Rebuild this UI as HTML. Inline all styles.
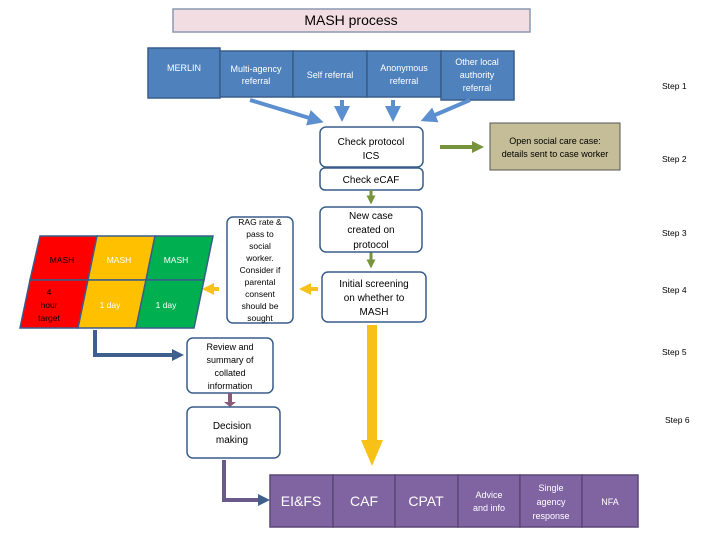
<!DOCTYPE html>
<html><head><style>
body{margin:0;background:#fff}
svg{display:block;font-family:"Liberation Sans",sans-serif}
</style></head><body>
<svg width="720" height="540" viewBox="0 0 720 540" xmlns="http://www.w3.org/2000/svg">
<defs>
<marker id="bh" markerWidth="4" markerHeight="4" refX="2" refY="2" orient="auto" markerUnits="strokeWidth"><path d="M0,0 L4,2 L0,4 Z" fill="#5b8fd0"/></marker>
<marker id="gh" markerWidth="3" markerHeight="3" refX="1.5" refY="1.5" orient="auto" markerUnits="strokeWidth"><path d="M0,0 L3,1.5 L0,3 Z" fill="#77933c"/></marker>
<marker id="yh" markerWidth="3" markerHeight="3" refX="1.5" refY="1.5" orient="auto" markerUnits="strokeWidth"><path d="M0,0 L3,1.5 L0,3 Z" fill="#f7c117"/></marker>
<marker id="dh" markerWidth="3" markerHeight="3" refX="1" refY="1.5" orient="auto" markerUnits="strokeWidth"><path d="M0,0 L3,1.5 L0,3 Z" fill="#3f5f8f"/></marker>
</defs>
<!-- title -->
<rect x="173" y="9" width="357" height="23" fill="#f2dde3" stroke="#8a9ab0" stroke-width="1.5"/>
<text x="351" y="25" font-size="14" text-anchor="middle">MASH process</text>
<!-- top blue boxes -->
<g fill="#4f81bd" stroke="#385d8a" stroke-width="1.5">
<rect x="148" y="48" width="72" height="50"/>
<rect x="220" y="51" width="73" height="46"/>
<rect x="293" y="51" width="74" height="46"/>
<rect x="367" y="51" width="74" height="46"/>
<rect x="441" y="51" width="73" height="49"/>
</g>
<g fill="#fff" font-size="9" text-anchor="middle">
<text x="184" y="71">MERLIN</text>
<text x="256" y="72">Multi-agency</text><text x="256" y="84">referral</text>
<text x="330" y="78">Self referral</text>
<text x="404" y="71">Anonymous</text><text x="404" y="84">referral</text>
<text x="477" y="65">Other local</text><text x="477" y="78">authority</text><text x="477" y="91">referral</text>
</g>
<!-- blue arrows -->
<g stroke="#5b8fd0" stroke-width="4" marker-end="url(#bh)">
<line x1="250" y1="100" x2="316" y2="120"/>
<line x1="342" y1="100" x2="342" y2="114"/>
<line x1="393" y1="100" x2="393" y2="114"/>
<line x1="470" y1="100" x2="428" y2="118"/>
</g>
<!-- check protocol -->
<rect x="320" y="127" width="103" height="40" rx="6" fill="#fff" stroke="#385d8a" stroke-width="1.5"/>
<text x="371" y="145" font-size="10" text-anchor="middle">Check protocol</text>
<text x="371" y="159" font-size="10" text-anchor="middle">ICS</text>
<rect x="320" y="168" width="103" height="22" rx="5" fill="#fff" stroke="#385d8a" stroke-width="1.5"/>
<text x="371" y="183" font-size="10" text-anchor="middle">Check eCAF</text>
<line x1="440" y1="147" x2="478" y2="147" stroke="#77933c" stroke-width="4" marker-end="url(#gh)"/>
<rect x="490" y="123" width="130" height="47" fill="#c4bd97" stroke="#555" stroke-width="1"/>
<text x="555" y="144" font-size="9" text-anchor="middle">Open social care case:</text>
<text x="555" y="157" font-size="9" text-anchor="middle">details sent to case worker</text>
<!-- green down arrows -->
<line x1="371" y1="190" x2="371" y2="200" stroke="#77933c" stroke-width="3" marker-end="url(#gh)"/>
<line x1="371" y1="252" x2="371" y2="264" stroke="#77933c" stroke-width="3" marker-end="url(#gh)"/>
<rect x="320" y="207" width="102" height="45" rx="6" fill="#fff" stroke="#385d8a" stroke-width="1.5"/>
<g font-size="10" text-anchor="middle"><text x="371" y="219">New case</text><text x="371" y="233">created on</text><text x="371" y="248">protocol</text></g>
<rect x="322" y="272" width="104" height="50" rx="6" fill="#fff" stroke="#385d8a" stroke-width="1.5"/>
<g font-size="10" text-anchor="middle"><text x="374" y="287">Initial screening</text><text x="374" y="301">on whether to</text><text x="374" y="315">MASH</text></g>
<!-- RAG box -->
<rect x="227" y="217" width="66" height="106" rx="6" fill="#fff" stroke="#385d8a" stroke-width="1.5"/>
<g font-size="8.5" text-anchor="middle"><text x="260" y="225">RAG rate &amp;</text><text x="260" y="237">pass to</text><text x="260" y="249">social</text><text x="260" y="261">worker.</text><text x="260" y="273">Consider if</text><text x="260" y="285">parental</text><text x="260" y="297">consent</text><text x="260" y="309">should be</text><text x="260" y="321">sought</text></g>
<line x1="318" y1="289" x2="305" y2="289" stroke="#f7c117" stroke-width="4" marker-end="url(#yh)"/>
<line x1="219" y1="289" x2="208" y2="289" stroke="#f7c117" stroke-width="4" marker-end="url(#yh)"/>
<!-- grid -->
<g stroke="#385d8a" stroke-width="1.5">
<polygon points="40,236 97,236 88,280 30,280" fill="#ff0000"/>
<polygon points="97,236 155,236 146,280 88,280" fill="#ffc000"/>
<polygon points="155,236 213,236 204,280 146,280" fill="#00b050"/>
<polygon points="30,280 88,280 78,328 20,328" fill="#ff0000"/>
<polygon points="88,280 146,280 136,328 78,328" fill="#ffc000"/>
<polygon points="146,280 204,280 194,328 136,328" fill="#00b050"/>
</g>
<g font-size="8.5" text-anchor="middle">
<text x="62" y="263">MASH</text><text x="119" y="263" fill="#fff">MASH</text><text x="176" y="263" fill="#fff">MASH</text>
<text x="49" y="295">4</text><text x="49" y="308">hour</text><text x="49" y="321">target</text>
<text x="110" y="308" fill="#fff">1 day</text><text x="166" y="308" fill="#fff">1 day</text>
</g>
<!-- elbow 1 -->
<polyline points="95,330 95,355 176,355" fill="none" stroke="#3f5f8f" stroke-width="4" marker-end="url(#dh)"/>
<rect x="187" y="338" width="86" height="55" rx="6" fill="#fff" stroke="#385d8a" stroke-width="1.5"/>
<g font-size="9" text-anchor="middle"><text x="230" y="350">Review and</text><text x="230" y="363">summary of</text><text x="230" y="376">collated</text><text x="230" y="389">information</text></g>
<line x1="230" y1="393" x2="230" y2="403" stroke="#8a5a7a" stroke-width="4"/>
<path d="M224,402 L236,402 L230,407 Z" fill="#8a5a7a"/>
<rect x="187" y="407" width="93" height="51" rx="6" fill="#fff" stroke="#385d8a" stroke-width="1.5"/>
<g font-size="10" text-anchor="middle"><text x="232" y="429">Decision</text><text x="232" y="443">making</text></g>
<polyline points="224,460 224,500 262,500" fill="none" stroke="#6a5a8a" stroke-width="4" marker-end="url(#dh)"/>
<!-- yellow big arrow -->
<rect x="367" y="325" width="10" height="120" fill="#f7c117"/>
<path d="M361,440 L383,440 L372,466 Z" fill="#f7c117"/>
<!-- bottom purple -->
<g fill="#8064a2" stroke="#5c4776" stroke-width="1.5">
<rect x="270" y="475" width="63" height="52"/><rect x="333" y="475" width="62" height="52"/><rect x="395" y="475" width="63" height="52"/>
<rect x="458" y="475" width="62" height="52"/><rect x="520" y="475" width="62" height="52"/><rect x="582" y="475" width="56" height="52"/>
</g>
<g fill="#fff" text-anchor="middle">
<text x="301" y="506" font-size="14">EI&amp;FS</text>
<text x="364" y="506" font-size="14">CAF</text>
<text x="426" y="506" font-size="14">CPAT</text>
<text x="489" y="498" font-size="9">Advice</text><text x="489" y="511" font-size="9">and info</text>
<text x="551" y="491" font-size="9">Single</text><text x="551" y="505" font-size="9">agency</text><text x="551" y="519" font-size="9">response</text>
<text x="610" y="505" font-size="9">NFA</text>
</g>
<!-- steps -->
<g font-size="8.5">
<text x="662" y="89">Step 1</text><text x="662" y="162">Step 2</text><text x="662" y="236">Step 3</text>
<text x="662" y="293">Step 4</text><text x="662" y="355">Step 5</text><text x="665" y="423">Step 6</text>
</g>
</svg>
</body></html>
